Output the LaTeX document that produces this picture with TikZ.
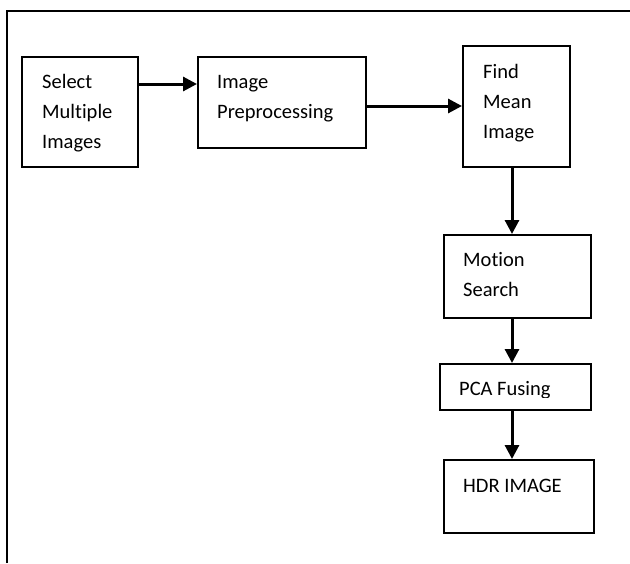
\documentclass[tikz,border=0pt]{standalone}
\usepackage{fontspec}
\setmainfont{Carlito}[Ligatures=NoCommon]
\usetikzlibrary{arrows.meta}
\begin{document}
\begin{tikzpicture}[x=1pt,y=-1pt,
  stage/.style={draw,line width=2pt,inner sep=0pt,anchor=north west},
  lbl/.style={anchor=base west,inner sep=0pt,align=left,font=\fontsize{20.5}{30}\selectfont},
  flow/.style={line width=3pt,-{Triangle[length=14pt,width=14pt]}}]
\useasboundingbox (0,0) rectangle (630,563);
% open outer frame (top and left edges only)
\draw[line width=2.2pt] (7,563) -- (7,11) -- (630,11);

% process boxes
\node[stage,minimum width=116pt,minimum height=110pt] (sel) at (21,56) {};
\node[stage,minimum width=168pt,minimum height=91pt]  (pre) at (197,56) {};
\node[stage,minimum width=107pt,minimum height=121pt] (mean) at (462,45) {};
\node[stage,minimum width=147pt,minimum height=83pt]  (mot) at (443,234) {};
\node[stage,minimum width=151pt,minimum height=46pt]  (pca) at (439,363) {};
\node[stage,minimum width=150pt,minimum height=73pt]  (hdr) at (443,459) {};

% box texts (anchored at the baseline of the last line)
\node[lbl] (tsel)  at (42,148)  {Select\\Multiple\\Images};
\node[lbl] (tpre)  at (217,118) {Image\\Preprocessing};
\node[lbl] (tmean) at (483,138) {Find\\Mean\\Image};
\node[lbl] (tmot)  at (463,296) {Motion\\Search};
\begin{scope}
  \clip (439,363) rectangle (590,397);
  \node[lbl] (tpca) at (459,395) {PCA Fusing};
\end{scope}
\node[lbl] (thdr)  at (463,492) {HDR IMAGE};

% connectors
\draw[flow] (sel.east |- 0,84) -- (pre.west |- 0,84);
\draw[flow] (pre.east |- 0,106) -- (mean.west |- 0,106);
\draw[flow] (mean.south -| 512,0) -- (mot.north -| 512,0);
\draw[flow] (mot.south -| 512,0) -- (pca.north -| 512,0);
\draw[flow] (pca.south -| 512,0) -- (hdr.north -| 512,0);
\end{tikzpicture}
\end{document}
